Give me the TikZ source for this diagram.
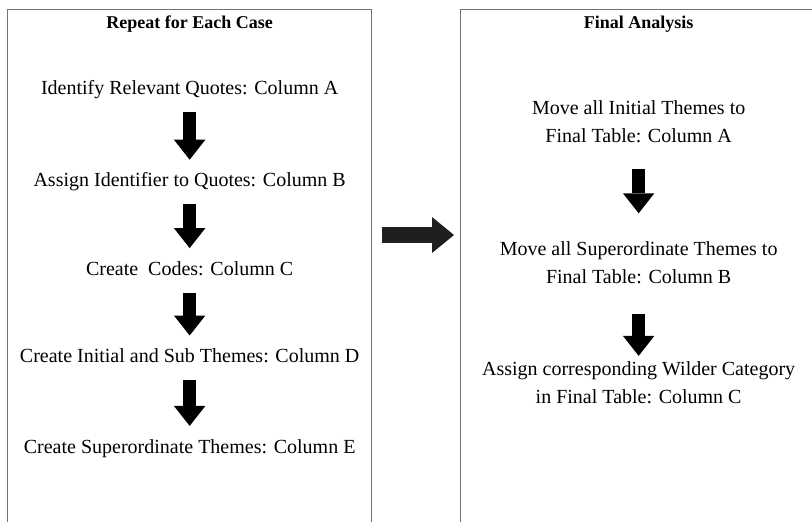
\documentclass[tikz,border=0pt]{standalone}
\usepackage{fontspec}
\setmainfont{Liberation Serif}
\usetikzlibrary{positioning,arrows.meta}

\begin{document}
\begin{tikzpicture}
[x=1pt,y=1pt,
panel/.style={rectangle,draw=black!55,line width=1.3pt,anchor=north west,minimum width=#1,minimum height=540pt,inner sep=0pt},
heading/.style={font=\fontsize{18}{22}\selectfont\bfseries,inner sep=0pt,anchor=base},
task/.style={font=\fontsize{20}{28}\selectfont,inner sep=0pt,text height=14pt,text depth=5pt},
task2/.style={font=\fontsize{20}{28}\selectfont,inner sep=0pt,align=center},
flow/.style={line width=12.5pt,black,shorten <=12pt,shorten >=13pt,-{Triangle[width=31.5pt,length=20pt,line width=0pt]}},
link/.style={line width=16pt,black!88,shorten <=10pt,shorten >=6pt,-{Triangle[width=36pt,length=22pt,line width=0pt]}}]
\useasboundingbox (0,0) rectangle (812,-522);
\node[panel=364pt] (casebox) at (7,-9) {};
\node[panel=356pt] (finalbox) at (460,-9) {};
% left panel
\node[heading] (casetitle) at ([yshift=-19pt]casebox.north) {Repeat for Each Case};
\node[task] (quotes) at ([yshift=-81pt]casebox.north) {Identify Relevant Quotes: Column A};
\node[task] (ident) [below=73pt of quotes] {Assign Identifier to Quotes: Column B};
\node[task] (codes) [below=69pt of ident] {Create\ \ Codes: Column C};
\node[task] (subthemes) [below=68pt of codes] {Create Initial and Sub Themes: Column D};
\node[task] (superthemes) [below=71pt of subthemes] {Create Superordinate Themes: Column E};
\draw[flow] (quotes) -- (ident);
\draw[flow] (ident) -- (codes);
\draw[flow] (codes) -- (subthemes);
\draw[flow] (subthemes) -- (superthemes);
% right panel
\node[heading] (finaltitle) at ([yshift=-19pt]finalbox.north) {Final Analysis};
\node[task2] (initial) at ([yshift=-113pt]finalbox.north) {Move all Initial Themes to\\Final Table: Column A};
\node[task2] (superord) [below=98pt of initial] {Move all Superordinate Themes to\\Final Table: Column B};
\node[task2] (wilder) [below=78pt of superord] {Assign corresponding Wilder Category\\in Final Table: Column C};
\draw[flow,shorten <=26pt,shorten >=28pt] (initial) -- (superord);
\draw[flow,shorten <=30pt,shorten >=6pt] (superord) -- (wilder);
% between panels
\coordinate (linkfrom) at ([yshift=-226pt]casebox.north east);
\coordinate (linkto) at ([yshift=-226pt]finalbox.north west);
\draw[link] (linkfrom) -- (linkto);
\end{tikzpicture}
\end{document}
